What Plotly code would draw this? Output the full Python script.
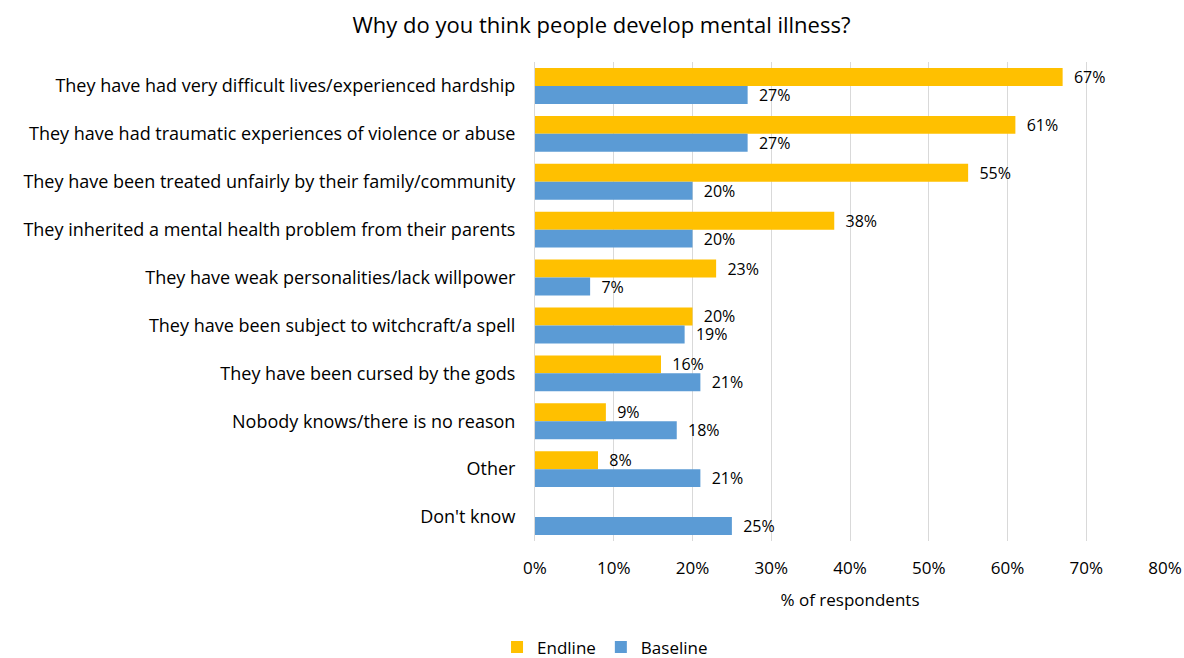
import plotly.graph_objects as go

# Survey responses, top to bottom
categories = [
    "They have had very difficult lives/experienced hardship",
    "They have had traumatic experiences of violence or abuse",
    "They have been treated unfairly by their family/community",
    "They inherited a mental health problem from their parents",
    "They have weak personalities/lack willpower",
    "They have been subject to witchcraft/a spell",
    "They have been cursed by the gods",
    "Nobody knows/there is no reason",
    "Other",
    "Don't know",
]
endline = [67, 61, 55, 38, 23, 20, 16, 9, 8, None]
baseline = [27, 27, 20, 20, 7, 19, 21, 18, 21, 25]
x_ticks = [0, 10, 20, 30, 40, 50, 60, 70, 80]
x_tick_labels = [f"{v}%" for v in x_ticks]

FONT = "'Open Sans', sans-serif"
ORANGE = "#FFC000"
BLUE = "#5B9BD5"

fig = go.Figure()
for name, vals, color in [("Endline", endline, ORANGE), ("Baseline", baseline, BLUE)]:
    fig.add_trace(go.Bar(
        name=name,
        y=categories,
        x=vals,
        orientation="h",
        marker=dict(color=color, line=dict(width=0)),
        text=[f"  {v}%" if v is not None else "" for v in vals],
        textposition="outside",
        constraintext="none",
        cliponaxis=False,
        textfont=dict(family=FONT, size=16, color="#000000"),
    ))

fig.update_layout(
    width=1184,
    height=658,
    margin=dict(l=535, r=19, t=62, b=117),
    paper_bgcolor="white",
    plot_bgcolor="white",
    barmode="group",
    bargap=0.25,
    bargroupgap=0,
    font=dict(family=FONT, size=17, color="#000000"),
    title=dict(
        text="Why do you think people develop mental illness?",
        x=0.508, xref="container", xanchor="center",
        y=0.962, yref="container", yanchor="middle",
        font=dict(family=FONT, size=22, color="#000000"),
    ),
    xaxis=dict(
        range=[0, 80],
        tickvals=x_ticks,
        ticktext=x_tick_labels,
        showgrid=True,
        gridcolor="#D9D9D9",
        gridwidth=1,
        zeroline=False,
        showline=False,
        ticks="outside",
        ticklen=12,
        tickcolor="rgba(0,0,0,0)",
        tickfont=dict(family=FONT, size=17),
        title=dict(text="% of respondents", font=dict(family=FONT, size=17), standoff=15),
        automargin=False,
    ),
    yaxis=dict(
        autorange="reversed",
        showgrid=False,
        showline=True,
        linecolor="#D9D9D9",
        linewidth=1,
        ticks="outside",
        ticklen=15,
        tickcolor="rgba(0,0,0,0)",
        tickfont=dict(family=FONT, size=18),
        automargin=False,
    ),
    legend=dict(
        orientation="h",
        x=0.511, xref="container", xanchor="center",
        y=0.016, yref="container", yanchor="middle",
        font=dict(family=FONT, size=17),
        traceorder="normal",
    ),
)

fig.write_html("out.html")
